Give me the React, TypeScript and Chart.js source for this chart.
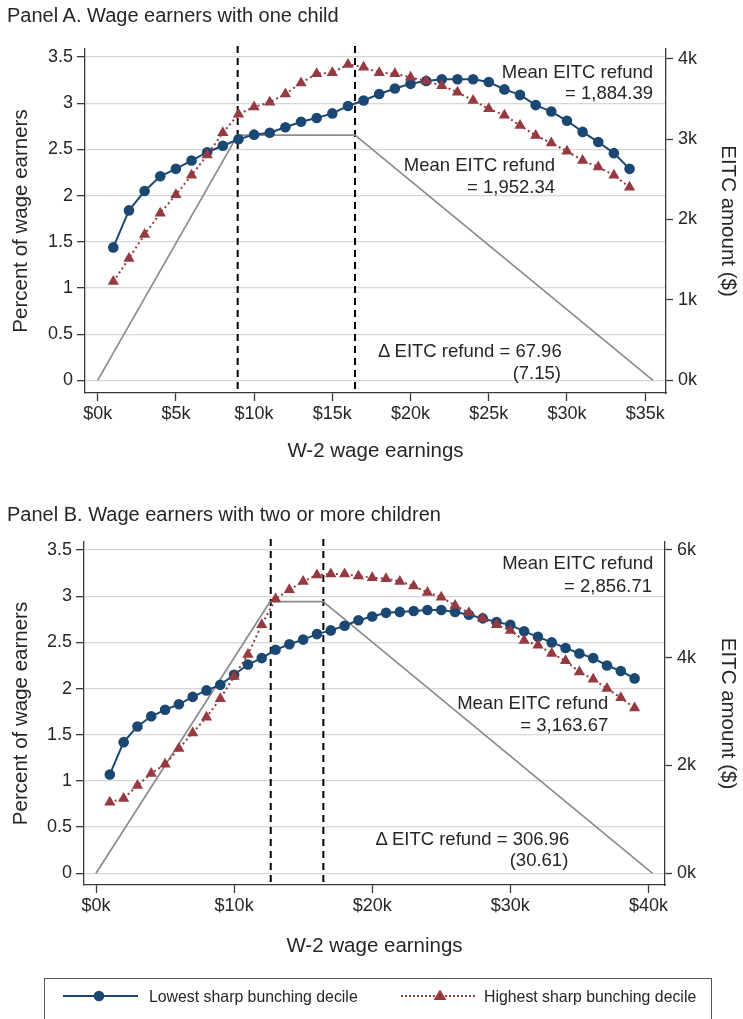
import React, { useEffect, useRef } from 'react';
import { Chart, registerables } from 'chart.js';

Chart.register(...registerables);

// ---------- Data ----------
const incomeA = [1, 2, 3, 4, 5, 6, 7, 8, 9, 10, 11, 12, 13, 14, 15, 16, 17, 18, 19, 20, 21, 22, 23, 24, 25, 26, 27, 28, 29, 30, 31, 32, 33, 34];
const lowestA = [1.44, 1.84, 2.05, 2.21, 2.29, 2.38, 2.47, 2.54, 2.61, 2.66, 2.68, 2.74, 2.80, 2.84, 2.89, 2.97, 3.03, 3.10, 3.16, 3.21, 3.24, 3.26, 3.26, 3.26, 3.23, 3.15, 3.09, 2.98, 2.91, 2.81, 2.69, 2.58, 2.46, 2.29];
const highestA = [1.07, 1.32, 1.58, 1.81, 2.01, 2.22, 2.44, 2.68, 2.88, 2.96, 3.01, 3.10, 3.22, 3.32, 3.33, 3.42, 3.39, 3.33, 3.32, 3.28, 3.24, 3.19, 3.12, 3.03, 2.94, 2.87, 2.76, 2.65, 2.57, 2.48, 2.38, 2.31, 2.22, 2.09];
const eitcXA = [0, 8.95, 16.45, 35.5];
const eitcYA = [0, 3050, 3050, 0];
const kinksA = [8.95, 16.45];
const xTicksA = [0, 5, 10, 15, 20, 25, 30, 35];
const rightTicksA = [0, 1000, 2000, 3000, 4000];

const incomeB = [1, 2, 3, 4, 5, 6, 7, 8, 9, 10, 11, 12, 13, 14, 15, 16, 17, 18, 19, 20, 21, 22, 23, 24, 25, 26, 27, 28, 29, 30, 31, 32, 33, 34, 35, 36, 37, 38, 39];
const lowestB = [1.07, 1.42, 1.59, 1.70, 1.77, 1.83, 1.91, 1.98, 2.04, 2.15, 2.26, 2.33, 2.42, 2.48, 2.53, 2.59, 2.63, 2.68, 2.74, 2.78, 2.82, 2.83, 2.84, 2.85, 2.85, 2.83, 2.80, 2.76, 2.72, 2.69, 2.62, 2.56, 2.50, 2.44, 2.38, 2.33, 2.25, 2.19, 2.11];
const highestB = [0.77, 0.81, 0.95, 1.08, 1.18, 1.35, 1.52, 1.69, 1.89, 2.13, 2.37, 2.69, 2.97, 3.07, 3.16, 3.23, 3.24, 3.24, 3.22, 3.20, 3.19, 3.16, 3.11, 3.04, 2.99, 2.90, 2.82, 2.76, 2.69, 2.63, 2.52, 2.47, 2.38, 2.30, 2.18, 2.10, 2.00, 1.90, 1.79];
const eitcXB = [0, 12.6, 16.45, 40.3];
const eitcYB = [0, 5040, 5040, 0];
const kinksB = [12.65, 16.46];
const xTicksB = [0, 10, 20, 30, 40];
const rightTicksB = [0, 2000, 4000, 6000];

const leftTicks = [0, 0.5, 1, 1.5, 2, 2.5, 3, 3.5];

const seriesLabels = ['Lowest sharp bunching decile', 'Highest sharp bunching decile'];

// ---------- Styles ----------
const FONT = '"Liberation Sans", Arial, Helvetica, sans-serif';
const BLUE = '#1b4872';
const RED = '#953a40';
const GRAY = '#8c8c8c';
const AXIS = '#3a3a3a';
const GRID = '#d6d6d6';
const TEXT = '#262626';

Chart.defaults.font.family = FONT;

const kinkPlugin = {
  id: 'kinks',
  beforeDatasetsDraw(chart: any, _args: any, opts: any) {
    const { ctx, chartArea, scales } = chart;
    ctx.save();
    ctx.strokeStyle = '#000';
    ctx.lineWidth = 2;
    ctx.setLineDash([7, 5]);
    for (const k of opts.values || []) {
      const x = scales.x.getPixelForValue(k);
      ctx.beginPath();
      ctx.moveTo(x, chartArea.top - 3);
      ctx.lineTo(x, chartArea.bottom);
      ctx.stroke();
    }
    ctx.restore();
  },
};

type PanelCfg = {
  income: number[];
  lowest: number[];
  highest: number[];
  eitcX: number[];
  eitcY: number[];
  kinks: number[];
  xTicks: number[];
  rightTicks: number[];
  xMin: number;
  xMax: number;
  yMin: number;
  yMax: number;
  y2Min: number;
  y2Max: number;
  top: number;
  leftW: number;
  rightW: number;
  xH: number;
  xTitlePad: number;
};

function makeConfig(p: PanelCfg): any {
  const tickFont = { size: 18, family: FONT };
  const titleFont = { size: 20.5, family: FONT };
  return {
    type: 'line',
    data: {
      datasets: [
        {
          label: seriesLabels[1],
          data: p.income.map((x, i) => ({ x, y: p.highest[i] })),
          yAxisID: 'y',
          borderColor: RED,
          backgroundColor: RED,
          pointBackgroundColor: RED,
          borderWidth: 2,
          borderDash: [2, 3],
          pointStyle: 'triangle',
          pointRadius: 6.5,
          pointBorderWidth: 0,
          tension: 0,
        },
        {
          label: seriesLabels[0],
          data: p.income.map((x, i) => ({ x, y: p.lowest[i] })),
          yAxisID: 'y',
          borderColor: BLUE,
          backgroundColor: BLUE,
          pointBackgroundColor: BLUE,
          borderWidth: 2,
          pointStyle: 'circle',
          pointRadius: 5.3,
          pointBorderWidth: 0,
          tension: 0,
        },
        {
          label: 'EITC schedule',
          data: p.eitcX.map((x, i) => ({ x, y: p.eitcY[i] })),
          yAxisID: 'y2',
          borderColor: GRAY,
          borderWidth: 1.7,
          pointRadius: 0,
          tension: 0,
        },
      ],
    },
    options: {
      animation: false,
      responsive: false,
      events: [],
      layout: { padding: { top: p.top, left: 0, right: 0, bottom: 0 } },
      plugins: {
        legend: { display: false },
        tooltip: { enabled: false },
        kinks: { values: p.kinks },
      },
      scales: {
        x: {
          type: 'linear',
          min: p.xMin,
          max: p.xMax,
          afterBuildTicks: (s: any) => {
            s.ticks = p.xTicks.map((v) => ({ value: v }));
          },
          ticks: {
            callback: (v: any) => '$' + v + 'k',
            font: tickFont,
            color: TEXT,
            padding: 2,
            maxRotation: 0,
            autoSkip: false,
          },
          grid: { drawOnChartArea: false, drawTicks: true, tickLength: 8, tickColor: AXIS, tickWidth: 1.3 },
          border: { display: true, color: AXIS, width: 1.3 },
          title: { display: true, text: 'W-2 wage earnings', font: titleFont, color: TEXT, padding: { top: 0, bottom: p.xTitlePad } },
          afterFit: (s: any) => {
            s.height = p.xH;
          },
        },
        y: {
          type: 'linear',
          position: 'left',
          min: p.yMin,
          max: p.yMax,
          afterBuildTicks: (s: any) => {
            s.ticks = leftTicks.map((v) => ({ value: v }));
          },
          ticks: { callback: (v: any) => String(v), font: tickFont, color: TEXT, padding: 4, autoSkip: false },
          grid: { color: GRID, lineWidth: 1.3, drawTicks: true, tickLength: 8, tickColor: AXIS, tickWidth: 1.3 },
          border: { display: true, color: AXIS, width: 1.3 },
          title: { display: true, text: 'Percent of wage earners', font: titleFont, color: TEXT, padding: { top: 9, bottom: 0 } },
          afterFit: (s: any) => {
            s.width = p.leftW;
          },
        },
        y2: {
          type: 'linear',
          position: 'right',
          min: p.y2Min,
          max: p.y2Max,
          afterBuildTicks: (s: any) => {
            s.ticks = p.rightTicks.map((v) => ({ value: v }));
          },
          ticks: { callback: (v: any) => v / 1000 + 'k', font: tickFont, color: TEXT, padding: 5, autoSkip: false },
          grid: { drawOnChartArea: false, drawTicks: true, tickLength: 7, tickColor: AXIS, tickWidth: 1.3 },
          border: { display: true, color: AXIS, width: 1.3 },
          title: { display: true, text: 'EITC amount ($)', font: titleFont, color: TEXT, padding: { top: 3, bottom: 0 } },
          afterFit: (s: any) => {
            s.width = p.rightW;
          },
        },
      },
    },
    plugins: [kinkPlugin],
  };
}

const panelA: PanelCfg = {
  income: incomeA,
  lowest: lowestA,
  highest: highestA,
  eitcX: eitcXA,
  eitcY: eitcYA,
  kinks: kinksA,
  xTicks: xTicksA,
  rightTicks: rightTicksA,
  xMin: -0.81,
  xMax: 36.33,
  yMin: -0.136,
  yMax: 3.587,
  y2Min: -157,
  y2Max: 4120,
  top: 49,
  leftW: 85,
  rightW: 77,
  xH: 87,
  xTitlePad: 16,
};

const panelB: PanelCfg = {
  income: incomeB,
  lowest: lowestB,
  highest: highestB,
  eitcX: eitcXB,
  eitcY: eitcYB,
  kinks: kinksB,
  xTicks: xTicksB,
  rightTicks: rightTicksB,
  xMin: -0.87,
  xMax: 41.2,
  yMin: -0.127,
  yMax: 3.587,
  y2Min: -217,
  y2Max: 6148,
  top: 48,
  leftW: 84,
  rightW: 78,
  xH: 89,
  xTitlePad: 15,
};

function PanelChart({ cfg, top }: { cfg: PanelCfg; top: number }) {
  const ref = useRef<HTMLCanvasElement | null>(null);
  useEffect(() => {
    if (!ref.current) return;
    const chart = new Chart(ref.current, makeConfig(cfg));
    return () => chart.destroy();
  }, [cfg]);
  return (
    <canvas
      ref={ref}
      width={743}
      height={480}
      style={{ position: 'absolute', left: 0, top, width: 743, height: 480 }}
    />
  );
}

function Note({ text, right, cy, size = 18.5 }: { text: string; right: number; cy: number; size?: number }) {
  return (
    <div
      style={{
        position: 'absolute',
        right: 743 - right,
        top: cy - 11,
        fontSize: size,
        lineHeight: '22px',
        whiteSpace: 'nowrap',
        color: TEXT,
        fontFamily: FONT,
      }}
    >
      {text}
    </div>
  );
}

export default function App() {
  return (
    <div
      style={{
        position: 'absolute',
        left: 0,
        top: 0,
        width: 743,
        height: 1019,
        overflow: 'hidden',
        background: '#fff',
        fontFamily: FONT,
        color: TEXT,
      }}
    >
      <PanelChart cfg={panelA} top={0} />
      <PanelChart cfg={panelB} top={494} />

      <div style={{ position: 'absolute', left: 7, top: 3, fontSize: 20, lineHeight: '24px', whiteSpace: 'nowrap' }}>
        Panel A. Wage earners with one child
      </div>
      <div style={{ position: 'absolute', left: 7, top: 502, fontSize: 20, lineHeight: '24px', whiteSpace: 'nowrap' }}>
        Panel B. Wage earners with two or more children
      </div>

      <Note text="Mean EITC refund" right={653} cy={71.7} />
      <Note text="= 1,884.39" right={653} cy={93.3} />
      <Note text="Mean EITC refund" right={555} cy={165} />
      <Note text="= 1,952.34" right={555} cy={186.7} />
      <Note text="Δ EITC refund = 67.96" right={561.7} cy={350.7} />
      <Note text="(7.15)" right={561} cy={373} />

      <Note text="Mean EITC refund" right={653.3} cy={563.3} />
      <Note text="= 2,856.71" right={652} cy={585.7} />
      <Note text="Mean EITC refund" right={608.3} cy={703.3} />
      <Note text="= 3,163.67" right={608.3} cy={725} />
      <Note text="Δ EITC refund = 306.96" right={569.3} cy={839} />
      <Note text="(30.61)" right={568.3} cy={860} />

      <svg width={743} height={60} style={{ position: 'absolute', left: 0, top: 960 }}>
        <rect x={44.5} y={18.5} width={667} height={80} fill="none" stroke="#555" strokeWidth={1} />
        <line x1={63} y1={36} x2={138} y2={36} stroke={BLUE} strokeWidth={2} />
        <circle cx={99} cy={36} r={5.3} fill={BLUE} />
        <line x1={401} y1={36} x2={476} y2={36} stroke={RED} strokeWidth={2} strokeDasharray="2 2" />
        <polygon points="440,29.5 446.5,40 433.5,40" fill={RED} />
      </svg>
      <div style={{ position: 'absolute', left: 149, top: 985, fontSize: 16.5, lineHeight: '22px', whiteSpace: 'nowrap', transform: 'scaleX(0.96)', transformOrigin: 'left center' }}>
        {seriesLabels[0]}
      </div>
      <div style={{ position: 'absolute', left: 484, top: 985, fontSize: 16.5, lineHeight: '22px', whiteSpace: 'nowrap', transform: 'scaleX(0.96)', transformOrigin: 'left center' }}>
        {seriesLabels[1]}
      </div>
    </div>
  );
}
